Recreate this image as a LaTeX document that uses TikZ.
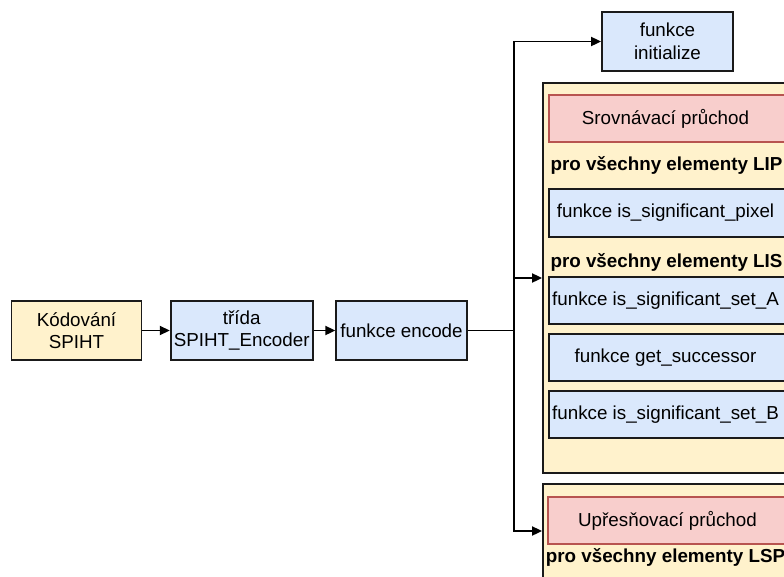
\documentclass[tikz,border=0pt]{standalone}
\usepackage{fontspec}
\setmainfont{Liberation Sans}
\usetikzlibrary{arrows.meta}
\definecolor{yel}{HTML}{FFF2CC}
\definecolor{blu}{HTML}{DAE8FC}
\definecolor{red1}{HTML}{F8CECC}
\definecolor{red2}{HTML}{B85450}
\definecolor{edge}{HTML}{1A1A1A}
\tikzset{
  base/.style={draw=edge, line width=1.8pt, inner sep=0pt, align=center,
    font=\fontsize{18.8}{22.5}\selectfont},
  ybox/.style={base, fill=yel},
  bbox/.style={base, fill=blu},
  rbox/.style={base, draw=red2, fill=red1},
  txt/.style={inner sep=0pt, align=center, font=\fontsize{18.8}{22.5}\selectfont},
  btxt/.style={inner sep=0pt, font=\fontsize{18.8}{22.5}\selectfont\bfseries},
  arr/.style={line width=1.8pt, draw=black, -{Triangle[length=10pt,width=9pt]}},
  ln/.style={line width=1.8pt, draw=black}
}
\begin{document}
\begin{tikzpicture}[x=1pt,y=-1pt]
\useasboundingbox (0,0) rectangle (784,576);
\fill[white] (0,0) rectangle (784,576);
\clip (0,0) rectangle (784,576);
% left chain
\node[ybox, minimum width=130, minimum height=59] (kod) at (76.5,330.5) {Kódování\\SPIHT};
\node[bbox, minimum width=142, minimum height=59] (tri) at (241.7,330.5) {třída\\SPIHT\_Encoder};
\node[bbox, minimum width=130.5, minimum height=59] (enc) at (401.5,330.5) {funkce encode};
\node[bbox, minimum width=131, minimum height=59] (ini) at (667.5,41.5) {funkce\\initialize};
% containers
\node[ybox, minimum width=250, minimum height=390] (c1) at (668,278) {};
\node[ybox, minimum width=250, minimum height=94] (c2) at (668,531) {};
% container 1 content
\node[rbox, minimum width=240, minimum height=47] (sr) at (669,118.5) {};
\node[txt] (srt) at (665.5,118.5) {Srovnávací průchod};
\node[btxt] (lip) at (666.5,165) {pro všechny elementy LIP};
\node[bbox, minimum width=240, minimum height=48] (px) at (669,213) {};
\node[txt] (pxt) at (665.5,213) {funkce is\_significant\_pixel};
\node[btxt] (lis) at (666.5,262) {pro všechny elementy LIS};
\node[bbox, minimum width=240, minimum height=47] (sa) at (669,300.5) {};
\node[txt] (sat) at (665.5,300.5) {funkce is\_significant\_set\_A};
\node[bbox, minimum width=240, minimum height=47] (gs) at (669,357.5) {};
\node[txt] (gst) at (665.5,357.5) {funkce get\_successor};
\node[bbox, minimum width=240, minimum height=47] (sb) at (669,414.5) {};
\node[txt] (sbt) at (665.5,414.5) {funkce is\_significant\_set\_B};
% container 2 content
\node[rbox, minimum width=240, minimum height=47] (up) at (668,520.5) {};
\node[txt] (upt) at (667.5,520.5) {Upřesňovací průchod};
\node[btxt] (lsp) at (665.5,557) {pro všechny elementy LSP};
% connectors
\coordinate (j) at (514,330.5);
\draw[arr] (kod) -- (tri);
\draw[arr] (tri) -- (enc);
\draw[ln] (enc.east) -- (j);
\draw[arr] (j) |- (ini.west);
\draw[arr] (j) |- (c1.west);
\draw[arr] (j) |- (c2.west);
\end{tikzpicture}
\end{document}
